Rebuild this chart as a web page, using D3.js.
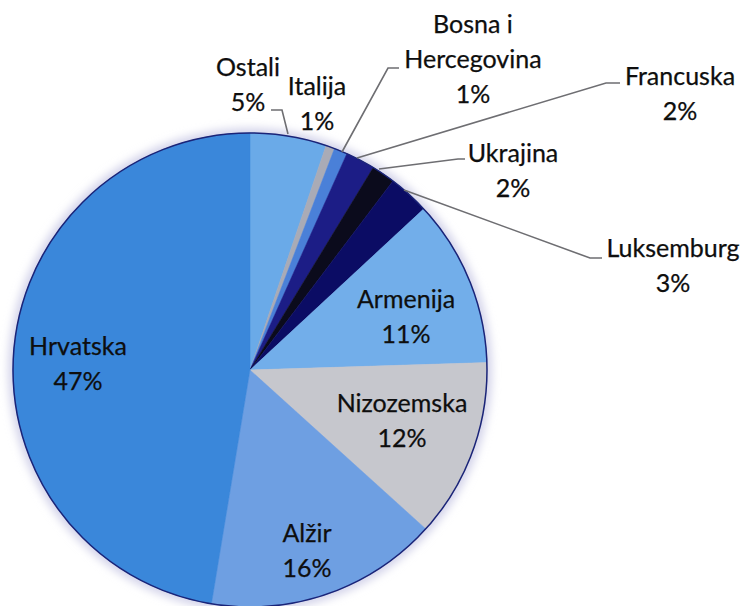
<!DOCTYPE html>
<html>
<head>
<meta charset="utf-8">
<script src="https://cdn.jsdelivr.net/npm/d3@7"></script>
<style>
  body { margin: 0; background: #fff; }
  svg { display: block; }
  .label { font-family: Lato, "Liberation Sans", sans-serif; font-size: 25px; fill: #0e0e0e; stroke: #0e0e0e; stroke-width: 0.25px; }
</style>
</head>
<body>
<div id="piechart"></div>
<script>
// countries, clockwise from 12 o'clock
var countries = ["Ostali", "Italija", "Bosna i Hercegovina", "Francuska", "Ukrajina",
                 "Luksemburg", "Armenija", "Nizozemska", "Alžir", "Hrvatska"];
// share of each slice
var shares = [5.2, 0.6, 0.9, 2.0, 1.6, 2.8, 11.4, 12.2, 15.9, 47.4];
// label lines as printed (name split over lines)
var labelLines = [["Ostali"], ["Italija"], ["Bosna i", "Hercegovina"], ["Francuska"], ["Ukrajina"],
                  ["Luksemburg"], ["Armenija"], ["Nizozemska"], ["Alžir"], ["Hrvatska"]];

const width = 749;
const height = 606;
const cx = 250, cy = 370, radius = 237;
const lineHeight = 35;

var colorset = ["#6aaae8", "#a9abb6", "#4a80d8", "#1c1d86", "#0b0b1c",
                "#0b0c64", "#72aeea", "#c6c7cd", "#6e9fe2", "#3a87da"];
var color = d3.scaleOrdinal().domain(countries).range(colorset);

// label layout: centre x and first baseline, plus leader line points (null = no line)
var layout = {
  "Ostali":              { x: 248, y: 76,  line: [[271, 110], [282, 110], [288, 134]] },
  "Italija":             { x: 317, y: 95,  line: null },
  "Bosna i Hercegovina": { x: 473, y: 33,  line: [[342, 152], [388, 68], [399, 68]] },
  "Francuska":           { x: 680, y: 85,  line: [[357, 158], [606, 83], [620, 83]] },
  "Ukrajina":            { x: 513, y: 162, line: [[379, 169], [458, 159], [465, 159]] },
  "Luksemburg":          { x: 673, y: 257, line: [[404, 190], [590, 258], [602, 258]] },
  "Armenija":            { x: 406, y: 308, line: null },
  "Nizozemska":          { x: 402, y: 412, line: null },
  "Alžir":               { x: 307, y: 542, line: null },
  "Hrvatska":            { x: 78,  y: 355, line: null }
};

var total = d3.sum(shares);
var data = countries.map(function(c, i) {
  return { name: c, value: shares[i], lines: labelLines[i],
           pct: Math.round(shares[i] / total * 100) + "%" };
});

var svg = d3.select("#piechart")
    .append("svg")
    .attr("width", width)
    .attr("height", height);

// soft halo behind the pie
var defs = svg.append("defs");
defs.append("filter")
    .attr("id", "halo")
    .attr("x", "-20%").attr("y", "-20%")
    .attr("width", "140%").attr("height", "140%")
  .append("feGaussianBlur")
    .attr("stdDeviation", 4);

var g = svg.append("g")
    .attr("transform", "translate(" + cx + "," + cy + ")");

g.append("circle")
    .attr("r", radius + 5)
    .attr("fill", "#d4d4ea")
    .attr("filter", "url(#halo)");

var pie = d3.pie()
    .sort(null)
    .value(function(d) { return d.value; });

var arc = d3.arc()
    .innerRadius(0)
    .outerRadius(radius);

g.selectAll(".slice")
    .data(pie(data))
    .enter()
    .append("path")
    .attr("class", "slice")
    .attr("d", arc)
    .attr("fill", function(d) { return color(d.data.name); })
    .attr("stroke", function(d) { return color(d.data.name); })
    .attr("stroke-width", 0.5);

// thin dark rim
g.append("circle")
    .attr("r", radius)
    .attr("fill", "none")
    .attr("stroke", "#1a2478")
    .attr("stroke-width", 1.5);

// leader lines
var line = d3.line();
svg.selectAll(".leader")
    .data(data.filter(function(d) { return layout[d.name].line; }))
    .enter()
    .append("path")
    .attr("class", "leader")
    .attr("d", function(d) { return line(layout[d.name].line); })
    .attr("fill", "none")
    .attr("stroke", "#6e6e72")
    .attr("stroke-width", 1.6);

// labels: name lines + percentage
var labels = svg.selectAll(".label")
    .data(data)
    .enter()
    .append("text")
    .attr("class", "label")
    .attr("text-anchor", "middle");

labels.each(function(d) {
  var pos = layout[d.name];
  var t = d3.select(this);
  d.lines.concat([d.pct]).forEach(function(s, i) {
    t.append("tspan")
        .attr("x", pos.x)
        .attr("y", pos.y + i * lineHeight)
        .text(s);
  });
});
</script>
</body>
</html>
